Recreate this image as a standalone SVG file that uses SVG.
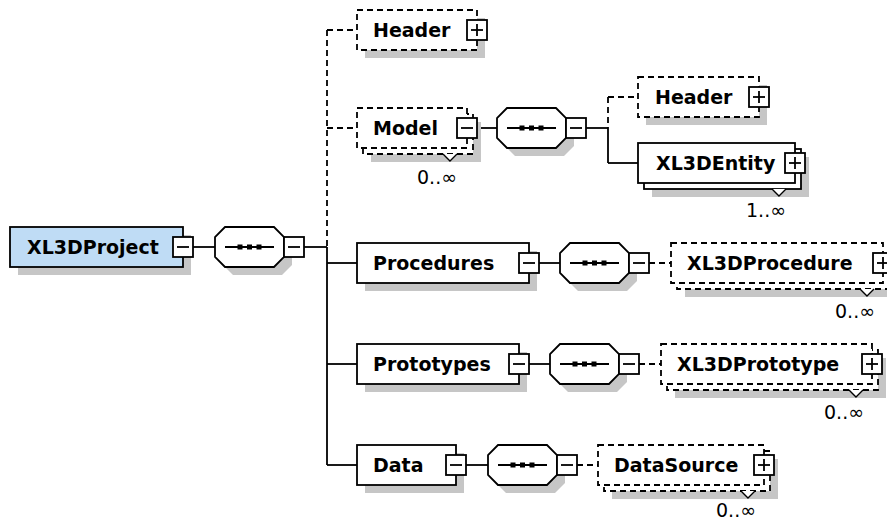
<svg xmlns="http://www.w3.org/2000/svg" xmlns:xlink="http://www.w3.org/1999/xlink" width="887" height="522" viewBox="0 0 887 522">
<style>
  .bg{fill:#fff}
  .box{fill:#fff;stroke:#000;stroke-width:1.8}
  .root{fill:#bfdcf5;stroke:#000;stroke-width:1.8}
  .dash{stroke-dasharray:6 4}
  .shadow{fill:#c6c6c6;stroke:none}
  .conn{stroke:#000;stroke-width:1.8;fill:none}
  .lbl{font-family:"DejaVu Sans",Verdana,sans-serif;font-weight:bold;font-size:19px;fill:#000}
  .mult{font-family:"DejaVu Sans",Verdana,sans-serif;font-size:19px;fill:#000;text-anchor:middle}
</style>
<defs>
  <path id="oct" d="M10,0 H59 L69,10 V30 L59,40 H10 L0,30 V10 Z"/>
  <g id="seq">
    <use xlink:href="#oct" class="box"/>
    <line x1="10" y1="20" x2="59" y2="20" stroke="#000" stroke-width="1.8"/>
    <rect x="22.5" y="17.5" width="5" height="5" fill="#000"/>
    <rect x="32" y="17.5" width="5" height="5" fill="#000"/>
    <rect x="41.5" y="17.5" width="5" height="5" fill="#000"/>
  </g>
  <g id="minus">
    <rect x="0" y="0" width="20" height="20" fill="#fff" stroke="#000" stroke-width="1.8"/>
    <line x1="4" y1="10" x2="16" y2="10" stroke="#000" stroke-width="1.8"/>
  </g>
  <g id="plus">
    <use xlink:href="#minus"/>
    <line x1="10" y1="4" x2="10" y2="16" stroke="#000" stroke-width="1.8"/>
  </g>
  <polyline id="notch" points="-7,0 0,7 7,0" fill="#fff" stroke="#000" stroke-width="1.4"/>
</defs>
<rect class="bg" x="0" y="0" width="887" height="522"/>

<g id="connectors">
  <line class="conn" x1="193" y1="247" x2="215" y2="247"/>
  <line class="conn" x1="304" y1="247" x2="327" y2="247"/>
  <line class="conn dash" x1="327" y1="30" x2="327" y2="247"/>
  <line class="conn" x1="327" y1="247" x2="327" y2="465"/>
  <line class="conn dash" x1="327" y1="30" x2="357" y2="30"/>
  <line class="conn dash" x1="327" y1="128" x2="357" y2="128"/>
  <line class="conn" x1="327" y1="263" x2="357" y2="263"/>
  <line class="conn" x1="327" y1="364" x2="357" y2="364"/>
  <line class="conn" x1="327" y1="465" x2="357" y2="465"/>
  <line class="conn" x1="477" y1="128" x2="497" y2="128"/>
  <line class="conn" x1="586" y1="128" x2="608" y2="128"/>
  <line class="conn dash" x1="608" y1="97" x2="608" y2="128"/>
  <line class="conn" x1="608" y1="128" x2="608" y2="163"/>
  <line class="conn dash" x1="608" y1="97" x2="638" y2="97"/>
  <line class="conn" x1="608" y1="163" x2="638" y2="163"/>
  <line class="conn" x1="539" y1="263" x2="560" y2="263"/>
  <line class="conn dash" x1="649" y1="263" x2="671" y2="263"/>
  <line class="conn" x1="529" y1="364" x2="550" y2="364"/>
  <line class="conn dash" x1="639" y1="364" x2="661" y2="364"/>
  <line class="conn" x1="466" y1="465" x2="488" y2="465"/>
  <line class="conn dash" x1="577" y1="465" x2="598" y2="465"/>
</g>

<g id="XL3DProject">
  <rect class="shadow" x="18" y="235" width="173" height="40"/>
  <rect class="root" x="10" y="227" width="173" height="40"/>
  <text class="lbl" x="27" y="254">XL3DProject</text>
  <use xlink:href="#minus" x="173" y="237"/>
</g>
<g id="seq-root">
  <use xlink:href="#oct" class="shadow" x="223" y="235"/>
  <use xlink:href="#seq" x="215" y="227"/>
  <use xlink:href="#minus" x="284" y="237"/>
</g>

<g id="Header">
  <rect class="shadow" x="365" y="18" width="120" height="40"/>
  <rect class="box dash" x="357" y="10" width="120" height="40"/>
  <text class="lbl" x="373" y="37">Header</text>
  <use xlink:href="#plus" x="467" y="20"/>
</g>

<g id="Model">
  <rect class="shadow" x="371" y="122" width="110" height="40"/>
  <rect class="box dash" x="363" y="114" width="110" height="40"/>
  <rect class="box dash" x="357" y="108" width="110" height="40"/>
  <text class="lbl" x="373" y="135">Model</text>
  <use xlink:href="#minus" x="457" y="118"/>
  <use xlink:href="#notch" x="450" y="154"/>
  <text class="mult" x="437" y="184">0..∞</text>
</g>
<g id="seq-model">
  <use xlink:href="#oct" class="shadow" x="505" y="116"/>
  <use xlink:href="#seq" x="497" y="108"/>
  <use xlink:href="#minus" x="566" y="118"/>
</g>

<g id="Header2">
  <rect class="shadow" x="646" y="85" width="121" height="40"/>
  <rect class="box dash" x="638" y="77" width="121" height="40"/>
  <text class="lbl" x="655" y="104">Header</text>
  <use xlink:href="#plus" x="749" y="87"/>
</g>

<g id="XL3DEntity">
  <rect class="shadow" x="652" y="157" width="157" height="40"/>
  <rect class="box" x="644" y="149" width="157" height="40"/>
  <rect class="box" x="638" y="143" width="157" height="40"/>
  <text class="lbl" x="656" y="170">XL3DEntity</text>
  <use xlink:href="#plus" x="785" y="153"/>
  <use xlink:href="#notch" x="779" y="189"/>
  <text class="mult" x="766" y="217">1..∞</text>
</g>

<g id="Procedures">
  <rect class="shadow" x="365" y="251" width="172" height="40"/>
  <rect class="box" x="357" y="243" width="172" height="40"/>
  <text class="lbl" x="373" y="270">Procedures</text>
  <use xlink:href="#minus" x="519" y="253"/>
</g>
<g id="seq-procedures">
  <use xlink:href="#oct" class="shadow" x="568" y="251"/>
  <use xlink:href="#seq" x="560" y="243"/>
  <use xlink:href="#minus" x="629" y="253"/>
</g>
<g id="XL3DProcedure">
  <rect class="shadow" x="685" y="257" width="212" height="40"/>
  <rect class="box dash" x="677" y="249" width="212" height="40"/>
  <rect class="box dash" x="671" y="243" width="212" height="40"/>
  <text class="lbl" x="687" y="270">XL3DProcedure</text>
  <use xlink:href="#plus" x="873" y="253"/>
  <use xlink:href="#notch" x="867" y="289"/>
  <text class="mult" x="855" y="318">0..∞</text>
</g>

<g id="Prototypes">
  <rect class="shadow" x="365" y="352" width="162" height="40"/>
  <rect class="box" x="357" y="344" width="162" height="40"/>
  <text class="lbl" x="373" y="371">Prototypes</text>
  <use xlink:href="#minus" x="509" y="354"/>
</g>
<g id="seq-prototypes">
  <use xlink:href="#oct" class="shadow" x="558" y="352"/>
  <use xlink:href="#seq" x="550" y="344"/>
  <use xlink:href="#minus" x="619" y="354"/>
</g>
<g id="XL3DPrototype">
  <rect class="shadow" x="675" y="358" width="211" height="40"/>
  <rect class="box dash" x="667" y="350" width="211" height="40"/>
  <rect class="box dash" x="661" y="344" width="211" height="40"/>
  <text class="lbl" x="677" y="371">XL3DPrototype</text>
  <use xlink:href="#plus" x="862" y="354"/>
  <use xlink:href="#notch" x="856" y="390"/>
  <text class="mult" x="844" y="419">0..∞</text>
</g>

<g id="Data">
  <rect class="shadow" x="365" y="453" width="99" height="40"/>
  <rect class="box" x="357" y="445" width="99" height="40"/>
  <text class="lbl" x="373" y="472">Data</text>
  <use xlink:href="#minus" x="446" y="455"/>
</g>
<g id="seq-data">
  <use xlink:href="#oct" class="shadow" x="496" y="453"/>
  <use xlink:href="#seq" x="488" y="445"/>
  <use xlink:href="#minus" x="557" y="455"/>
</g>
<g id="DataSource">
  <rect class="shadow" x="612" y="459" width="166" height="40"/>
  <rect class="box dash" x="604" y="451" width="166" height="40"/>
  <rect class="box dash" x="598" y="445" width="166" height="40"/>
  <text class="lbl" x="614" y="472">DataSource</text>
  <use xlink:href="#plus" x="754" y="455"/>
  <use xlink:href="#notch" x="748" y="491"/>
  <text class="mult" x="736" y="517">0..∞</text>
</g>
</svg>
